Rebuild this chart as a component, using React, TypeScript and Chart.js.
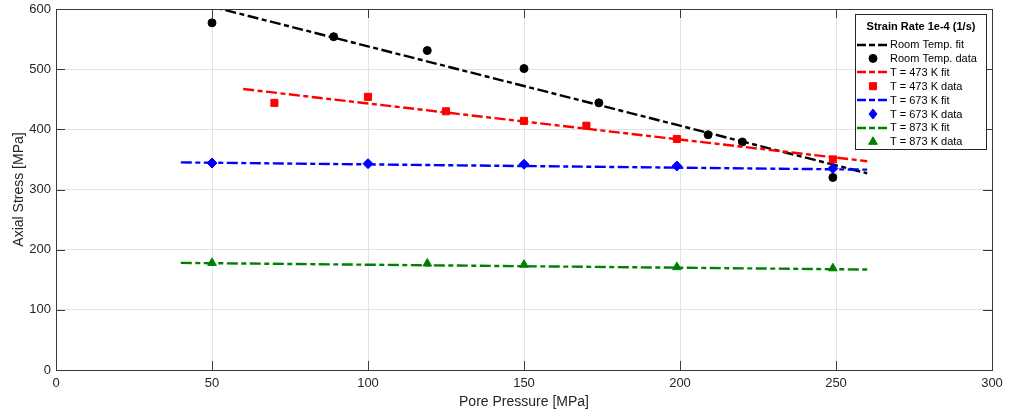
import { useEffect, useRef } from 'react';
import { Chart, registerables } from 'chart.js';

Chart.register(...registerables);

// ---- data ----
const roomPressure = [50, 89, 119, 150, 174, 209, 220, 249];
const roomStress = [577, 554, 531, 501, 444, 391, 379, 320];
const k473Pressure = [70, 100, 125, 150, 170, 199, 249];
const k473Stress = [444, 454, 430, 414, 406, 384, 350];
const k673Pressure = [50, 100, 150, 199, 249];
const k673Stress = [344, 343, 342, 339, 335];
const k873Pressure = [50, 119, 150, 199, 249];
const k873Stress = [178, 177, 175, 171, 169];

const roomFitX = [40, 260];
const roomFitY = [617, 327];
const k473FitX = [60, 260];
const k473FitY = [467, 347];
const k673FitX = [40, 260];
const k673FitY = [345, 333];
const k873FitX = [40, 260];
const k873FitY = [178, 167];

const xTicks = [0, 50, 100, 150, 200, 250, 300];
const yTicks = [0, 100, 200, 300, 400, 500, 600];

const legendTitle = 'Strain Rate 1e-4 (1/s)';
const seriesLabels = [
  'Room Temp. fit',
  'Room Temp. data',
  'T = 473 K fit',
  'T = 473 K data',
  'T = 673 K fit',
  'T = 673 K data',
  'T = 873 K fit',
  'T = 873 K data',
];

const FONT = '"Liberation Sans", Arial, Helvetica, sans-serif';
const TEXT = '#262626';
const FIT_DASH = [11, 3.5, 5, 3.5];

const pts = (xs: number[], ys: number[]) => xs.map((x, i) => ({ x, y: ys[i] }));

function fitSet(label: string, xs: number[], ys: number[], color: string) {
  return {
    label,
    data: pts(xs, ys),
    showLine: true,
    borderColor: color,
    backgroundColor: color,
    borderWidth: 2.4,
    borderDash: FIT_DASH,
    pointRadius: 0,
    pointHoverRadius: 0,
    fill: false,
    _kind: 'fit',
  };
}

function dataSet(label: string, xs: number[], ys: number[], color: string, style: string, r: number) {
  return {
    label,
    data: pts(xs, ys),
    showLine: false,
    borderColor: color,
    backgroundColor: color,
    borderWidth: 1,
    pointStyle: style,
    pointRadius: r,
    pointHoverRadius: r,
    _kind: 'data',
  };
}

function drawMarker(ctx: CanvasRenderingContext2D, style: string, x: number, y: number, r: number) {
  ctx.beginPath();
  if (style === 'circle') {
    ctx.arc(x, y, r, 0, Math.PI * 2);
  } else if (style === 'rect') {
    const s = r * Math.SQRT1_2;
    ctx.rect(x - s, y - s, 2 * s, 2 * s);
  } else if (style === 'rectRot') {
    ctx.moveTo(x, y - r);
    ctx.lineTo(x + r * 0.8, y);
    ctx.lineTo(x, y + r);
    ctx.lineTo(x - r * 0.8, y);
    ctx.closePath();
  } else if (style === 'triangle') {
    const h = r * 1.5;
    ctx.moveTo(x, y - r);
    ctx.lineTo(x + r * 0.866, y + h - r);
    ctx.lineTo(x - r * 0.866, y + h - r);
    ctx.closePath();
  }
  ctx.fill();
  ctx.stroke();
}

const framePlugin = {
  id: 'matlabFrame',
  afterDraw(chart: any) {
    const { ctx, chartArea, scales } = chart;
    const { left, right, top, bottom } = chartArea;
    const xs = scales.x;
    const ys = scales.y;
    ctx.save();
    ctx.strokeStyle = '#3a3a3a';
    ctx.lineWidth = 1;
    ctx.setLineDash([]);
    const tl = 9;
    ctx.beginPath();
    for (const v of xTicks) {
      const px = Math.round(xs.getPixelForValue(v)) + 0.5;
      ctx.moveTo(px, bottom);
      ctx.lineTo(px, bottom - tl);
      ctx.moveTo(px, top);
      ctx.lineTo(px, top + tl);
    }
    for (const v of yTicks) {
      const py = Math.round(ys.getPixelForValue(v)) + 0.5;
      ctx.moveTo(left, py);
      ctx.lineTo(left + tl, py);
      ctx.moveTo(right, py);
      ctx.lineTo(right - tl, py);
    }
    ctx.stroke();
    ctx.strokeRect(Math.round(left) + 0.5, Math.round(top) + 0.5, Math.round(right - left), Math.round(bottom - top));

    // legend
    const lx = 855.5;
    const ly = 14.5;
    const lw = 131;
    const lh = 135;
    ctx.fillStyle = '#ffffff';
    ctx.fillRect(lx, ly, lw, lh);
    ctx.strokeStyle = '#262626';
    ctx.strokeRect(lx, ly, lw, lh);
    ctx.fillStyle = '#000000';
    ctx.font = `bold 11px ${FONT}`;
    ctx.textAlign = 'center';
    ctx.textBaseline = 'middle';
    ctx.fillText(legendTitle, lx + lw / 2, 27);
    ctx.font = `11px ${FONT}`;
    ctx.textAlign = 'left';
    chart.data.datasets.forEach((ds: any, i: number) => {
      const y = 44.5 + i * 13.9;
      if (ds._kind === 'fit') {
        ctx.save();
        ctx.strokeStyle = ds.borderColor;
        ctx.lineWidth = 2.4;
        ctx.setLineDash([9, 3, 6, 3]);
        ctx.beginPath();
        ctx.moveTo(857, Math.round(y));
        ctx.lineTo(889, Math.round(y));
        ctx.stroke();
        ctx.restore();
      } else {
        ctx.save();
        ctx.fillStyle = ds.backgroundColor;
        ctx.strokeStyle = ds.borderColor;
        ctx.lineWidth = 1;
        drawMarker(ctx, ds.pointStyle, 873, y, ds.pointRadius);
        ctx.restore();
      }
      ctx.fillStyle = '#000000';
      ctx.fillText(ds.label, 890, y + 0.5);
    });
    ctx.restore();
  },
};

export default function App() {
  const ref = useRef<HTMLCanvasElement | null>(null);

  useEffect(() => {
    if (!ref.current) return;
    const datasets: any[] = [
      fitSet(seriesLabels[0], roomFitX, roomFitY, '#000000'),
      dataSet(seriesLabels[1], roomPressure, roomStress, '#000000', 'circle', 4),
      fitSet(seriesLabels[2], k473FitX, k473FitY, '#ff0000'),
      dataSet(seriesLabels[3], k473Pressure, k473Stress, '#ff0000', 'rect', 5),
      fitSet(seriesLabels[4], k673FitX, k673FitY, '#0000ff'),
      dataSet(seriesLabels[5], k673Pressure, k673Stress, '#0000ff', 'rectRot', 5),
      fitSet(seriesLabels[6], k873FitX, k873FitY, '#008000'),
      dataSet(seriesLabels[7], k873Pressure, k873Stress, '#008000', 'triangle', 5),
    ];
    datasets.forEach((d, i) => (d.order = datasets.length - i));

    const chart = new Chart(ref.current, {
      type: 'scatter',
      data: { datasets },
      plugins: [framePlugin],
      options: {
        animation: false,
        responsive: true,
        maintainAspectRatio: false,
        layout: { padding: { top: 9, right: 21, left: 0, bottom: 0 } },
        plugins: { legend: { display: false }, tooltip: { enabled: false } },
        events: [],
        scales: {
          x: {
            type: 'linear',
            min: 0,
            max: 300,
            afterBuildTicks: (s: any) => {
              s.ticks = xTicks.map((v) => ({ value: v }));
            },
            afterFit: (s: any) => {
              s.height = 46;
              s.paddingLeft = 0;
              s.paddingRight = 0;
            },
            ticks: {
              padding: 6,
              color: TEXT,
              font: { family: FONT, size: 13 },
              maxRotation: 0,
              autoSkip: false,
            },
            grid: { color: '#e3e3e3', lineWidth: 1, drawTicks: false },
            border: { display: false },
            title: {
              display: true,
              text: 'Pore Pressure [MPa]',
              color: TEXT,
              font: { family: FONT, size: 14 },
              padding: { top: 0, bottom: 5 },
            },
          },
          y: {
            type: 'linear',
            min: 0,
            max: 600,
            afterBuildTicks: (s: any) => {
              s.ticks = yTicks.map((v) => ({ value: v }));
            },
            afterFit: (s: any) => {
              s.width = 56;
              s.paddingTop = 0;
              s.paddingBottom = 0;
            },
            ticks: {
              padding: 5,
              color: TEXT,
              font: { family: FONT, size: 13 },
              autoSkip: false,
            },
            grid: { color: '#e3e3e3', lineWidth: 1, drawTicks: false },
            border: { display: false },
            title: {
              display: true,
              text: 'Axial Stress [MPa]',
              color: TEXT,
              font: { family: FONT, size: 14 },
              padding: { top: 11, bottom: 0 },
            },
          },
        },
      } as any,
    });
    return () => chart.destroy();
  }, []);

  return (
    <div style={{ position: 'fixed', left: 0, top: 0, width: 1013, height: 416, background: '#ffffff' }}>
      <canvas ref={ref} />
    </div>
  );
}
